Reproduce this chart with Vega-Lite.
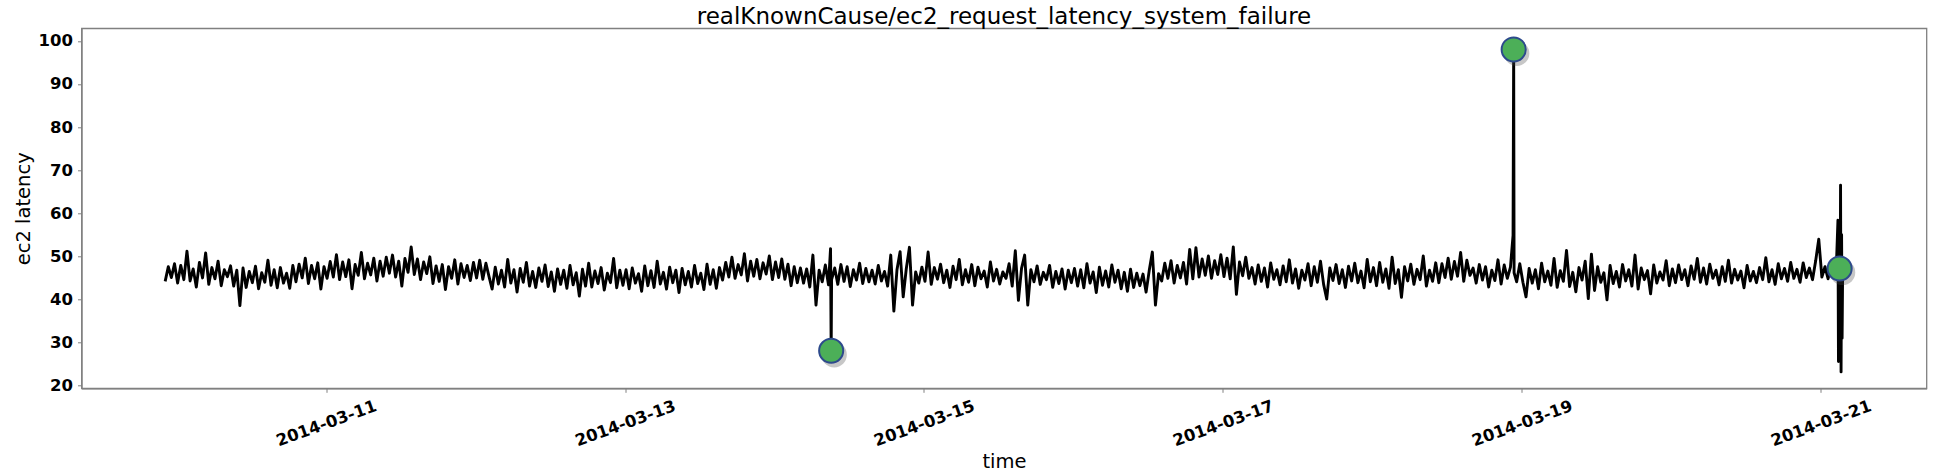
{
"$schema":"https://vega.github.io/schema/vega-lite/v6.json",
"width":1845,"height":360,
"autosize":{"type":"none"},
"padding":{"left":81.5,"top":28.3,"right":13.5,"bottom":87.7},
"background":"white",
"title":{"text":"realKnownCause/ec2_request_latency_system_failure","font":"DejaVu Sans","fontSize":23,"fontWeight":"normal","color":"#000","anchor":"middle","frame":"group","baseline":"alphabetic","offset":6,"dy":25},
"config":{"view":{"stroke":"#808080","strokeWidth":1.3},"axis":{"grid":false}},
"datasets":{
"a":[{"t":"2014-03-14T09:06","v":28.1},{"t":"2014-03-18T22:41","v":98.0},{"t":"2014-03-21T03:01","v":47.2}],
"s":[
{"t":"2014-03-09T22:10","v":44.2},{"t":"2014-03-09T22:40","v":47.6},{"t":"2014-03-09T23:10","v":45.1},{"t":"2014-03-09T23:40","v":48.3},
{"t":"2014-03-10T00:10","v":43.8},{"t":"2014-03-10T00:40","v":47.9},{"t":"2014-03-10T01:10","v":44.6},{"t":"2014-03-10T01:40","v":51.2},{"t":"2014-03-10T02:10","v":44.3},{"t":"2014-03-10T02:40","v":47.1},{"t":"2014-03-10T03:10","v":42.9},{"t":"2014-03-10T03:40","v":48.6},{"t":"2014-03-10T04:10","v":45.0},{"t":"2014-03-10T04:40","v":50.8},{"t":"2014-03-10T05:10","v":43.5},{"t":"2014-03-10T05:40","v":47.4},{"t":"2014-03-10T06:10","v":44.8},{"t":"2014-03-10T06:40","v":48.9},{"t":"2014-03-10T07:10","v":43.2},{"t":"2014-03-10T07:40","v":46.9},{"t":"2014-03-10T08:10","v":45.3},{"t":"2014-03-10T08:40","v":47.8},{"t":"2014-03-10T09:10","v":43.1},{"t":"2014-03-10T09:40","v":46.8},{"t":"2014-03-10T10:10","v":38.6},{"t":"2014-03-10T10:40","v":47.3},{"t":"2014-03-10T11:10","v":42.8},{"t":"2014-03-10T11:40","v":46.5},{"t":"2014-03-10T12:10","v":43.9},{"t":"2014-03-10T12:40","v":47.7},{"t":"2014-03-10T13:10","v":42.5},{"t":"2014-03-10T13:40","v":46.2},{"t":"2014-03-10T14:10","v":44.0},{"t":"2014-03-10T14:40","v":49.1},{"t":"2014-03-10T15:10","v":43.3},{"t":"2014-03-10T15:40","v":46.9},{"t":"2014-03-10T16:10","v":42.7},{"t":"2014-03-10T16:40","v":47.4},{"t":"2014-03-10T17:10","v":43.8},{"t":"2014-03-10T17:40","v":46.1},{"t":"2014-03-10T18:10","v":42.6},{"t":"2014-03-10T18:40","v":47.9},{"t":"2014-03-10T19:10","v":44.1},{"t":"2014-03-10T19:40","v":48.2},{"t":"2014-03-10T20:10","v":45.0},{"t":"2014-03-10T20:40","v":49.6},{"t":"2014-03-10T21:10","v":43.7},{"t":"2014-03-10T21:40","v":47.9},{"t":"2014-03-10T22:10","v":44.8},{"t":"2014-03-10T22:40","v":48.5},{"t":"2014-03-10T23:10","v":42.4},{"t":"2014-03-10T23:40","v":47.6},
{"t":"2014-03-11T00:10","v":44.9},{"t":"2014-03-11T00:40","v":48.8},{"t":"2014-03-11T01:10","v":45.2},{"t":"2014-03-11T01:40","v":50.4},{"t":"2014-03-11T02:10","v":44.6},{"t":"2014-03-11T02:40","v":48.7},{"t":"2014-03-11T03:10","v":45.3},{"t":"2014-03-11T03:40","v":49.2},{"t":"2014-03-11T04:10","v":42.5},{"t":"2014-03-11T04:40","v":48.1},{"t":"2014-03-11T05:10","v":45.6},{"t":"2014-03-11T05:40","v":50.9},{"t":"2014-03-11T06:10","v":44.8},{"t":"2014-03-11T06:40","v":48.4},{"t":"2014-03-11T07:10","v":45.7},{"t":"2014-03-11T07:40","v":49.6},{"t":"2014-03-11T08:10","v":44.3},{"t":"2014-03-11T08:40","v":48.9},{"t":"2014-03-11T09:10","v":45.4},{"t":"2014-03-11T09:40","v":49.8},{"t":"2014-03-11T10:10","v":46.1},{"t":"2014-03-11T10:40","v":50.3},{"t":"2014-03-11T11:10","v":45.2},{"t":"2014-03-11T11:40","v":48.9},{"t":"2014-03-11T12:10","v":43.1},{"t":"2014-03-11T12:40","v":49.5},{"t":"2014-03-11T13:10","v":46.3},{"t":"2014-03-11T13:40","v":52.2},{"t":"2014-03-11T14:10","v":45.8},{"t":"2014-03-11T14:40","v":49.4},{"t":"2014-03-11T15:10","v":44.6},{"t":"2014-03-11T15:40","v":48.7},{"t":"2014-03-11T16:10","v":46.0},{"t":"2014-03-11T16:40","v":49.9},{"t":"2014-03-11T17:10","v":43.7},{"t":"2014-03-11T17:40","v":47.8},{"t":"2014-03-11T18:10","v":44.2},{"t":"2014-03-11T18:40","v":48.1},{"t":"2014-03-11T19:10","v":42.3},{"t":"2014-03-11T19:40","v":47.6},{"t":"2014-03-11T20:10","v":44.9},{"t":"2014-03-11T20:40","v":49.2},{"t":"2014-03-11T21:10","v":43.6},{"t":"2014-03-11T21:40","v":48.3},{"t":"2014-03-11T22:10","v":45.1},{"t":"2014-03-11T22:40","v":47.9},{"t":"2014-03-11T23:10","v":44.4},{"t":"2014-03-11T23:40","v":48.6},
{"t":"2014-03-12T00:10","v":45.0},{"t":"2014-03-12T00:40","v":49.1},{"t":"2014-03-12T01:10","v":44.7},{"t":"2014-03-12T01:40","v":48.4},{"t":"2014-03-12T02:10","v":45.3},{"t":"2014-03-12T02:40","v":42.4},{"t":"2014-03-12T03:10","v":47.5},{"t":"2014-03-12T03:40","v":43.6},{"t":"2014-03-12T04:10","v":46.8},{"t":"2014-03-12T04:40","v":42.9},{"t":"2014-03-12T05:10","v":49.3},{"t":"2014-03-12T05:40","v":43.8},{"t":"2014-03-12T06:10","v":46.9},{"t":"2014-03-12T06:40","v":41.7},{"t":"2014-03-12T07:10","v":47.2},{"t":"2014-03-12T07:40","v":44.0},{"t":"2014-03-12T08:10","v":48.6},{"t":"2014-03-12T08:40","v":43.1},{"t":"2014-03-12T09:10","v":46.5},{"t":"2014-03-12T09:40","v":42.8},{"t":"2014-03-12T10:10","v":47.3},{"t":"2014-03-12T10:40","v":44.2},{"t":"2014-03-12T11:10","v":48.0},{"t":"2014-03-12T11:40","v":43.0},{"t":"2014-03-12T12:10","v":46.4},{"t":"2014-03-12T12:40","v":41.9},{"t":"2014-03-12T13:10","v":47.1},{"t":"2014-03-12T13:40","v":43.5},{"t":"2014-03-12T14:10","v":46.8},{"t":"2014-03-12T14:40","v":42.6},{"t":"2014-03-12T15:10","v":47.9},{"t":"2014-03-12T15:40","v":43.4},{"t":"2014-03-12T16:10","v":46.2},{"t":"2014-03-12T16:40","v":40.8},{"t":"2014-03-12T17:10","v":47.0},{"t":"2014-03-12T17:40","v":43.1},{"t":"2014-03-12T18:10","v":48.4},{"t":"2014-03-12T18:40","v":42.9},{"t":"2014-03-12T19:10","v":46.6},{"t":"2014-03-12T19:40","v":43.7},{"t":"2014-03-12T20:10","v":47.4},{"t":"2014-03-12T20:40","v":42.2},{"t":"2014-03-12T21:10","v":46.1},{"t":"2014-03-12T21:40","v":43.9},{"t":"2014-03-12T22:10","v":49.5},{"t":"2014-03-12T22:40","v":42.7},{"t":"2014-03-12T23:10","v":46.8},{"t":"2014-03-12T23:40","v":43.3},
{"t":"2014-03-13T00:10","v":46.9},{"t":"2014-03-13T00:40","v":42.5},{"t":"2014-03-13T01:10","v":47.3},{"t":"2014-03-13T01:40","v":43.8},{"t":"2014-03-13T02:10","v":46.0},{"t":"2014-03-13T02:40","v":41.9},{"t":"2014-03-13T03:10","v":47.8},{"t":"2014-03-13T03:40","v":43.2},{"t":"2014-03-13T04:10","v":46.7},{"t":"2014-03-13T04:40","v":42.8},{"t":"2014-03-13T05:10","v":48.9},{"t":"2014-03-13T05:40","v":43.6},{"t":"2014-03-13T06:10","v":46.3},{"t":"2014-03-13T06:40","v":42.4},{"t":"2014-03-13T07:10","v":47.5},{"t":"2014-03-13T07:40","v":43.9},{"t":"2014-03-13T08:10","v":46.8},{"t":"2014-03-13T08:40","v":41.6},{"t":"2014-03-13T09:10","v":47.2},{"t":"2014-03-13T09:40","v":43.4},{"t":"2014-03-13T10:10","v":46.5},{"t":"2014-03-13T10:40","v":42.9},{"t":"2014-03-13T11:10","v":47.9},{"t":"2014-03-13T11:40","v":43.7},{"t":"2014-03-13T12:10","v":46.1},{"t":"2014-03-13T12:40","v":42.3},{"t":"2014-03-13T13:10","v":48.2},{"t":"2014-03-13T13:40","v":43.5},{"t":"2014-03-13T14:10","v":46.9},{"t":"2014-03-13T14:40","v":42.6},{"t":"2014-03-13T15:10","v":47.4},{"t":"2014-03-13T15:40","v":44.5},{"t":"2014-03-13T16:10","v":48.6},{"t":"2014-03-13T16:40","v":45.2},{"t":"2014-03-13T17:10","v":49.8},{"t":"2014-03-13T17:40","v":44.9},{"t":"2014-03-13T18:10","v":48.1},{"t":"2014-03-13T18:40","v":45.7},{"t":"2014-03-13T19:10","v":50.6},{"t":"2014-03-13T19:40","v":44.3},{"t":"2014-03-13T20:10","v":48.9},{"t":"2014-03-13T20:40","v":45.4},{"t":"2014-03-13T21:10","v":49.3},{"t":"2014-03-13T21:40","v":44.8},{"t":"2014-03-13T22:10","v":48.5},{"t":"2014-03-13T22:40","v":45.9},{"t":"2014-03-13T23:10","v":50.1},{"t":"2014-03-13T23:40","v":44.6},
{"t":"2014-03-14T00:10","v":48.7},{"t":"2014-03-14T00:40","v":45.1},{"t":"2014-03-14T01:10","v":49.4},{"t":"2014-03-14T01:40","v":44.7},{"t":"2014-03-14T02:10","v":48.2},{"t":"2014-03-14T02:40","v":43.2},{"t":"2014-03-14T03:10","v":47.6},{"t":"2014-03-14T03:40","v":43.9},{"t":"2014-03-14T04:10","v":47.3},{"t":"2014-03-14T04:40","v":43.8},{"t":"2014-03-14T05:10","v":47.1},{"t":"2014-03-14T05:40","v":42.9},{"t":"2014-03-14T06:10","v":50.3},{"t":"2014-03-14T06:40","v":38.7},{"t":"2014-03-14T07:10","v":46.8},{"t":"2014-03-14T07:40","v":44.1},{"t":"2014-03-14T08:10","v":48.0},{"t":"2014-03-14T08:40","v":43.4},{"t":"2014-03-14T09:00","v":51.8},{"t":"2014-03-14T09:06","v":28.1},{"t":"2014-03-14T09:10","v":44.6},{"t":"2014-03-14T09:40","v":47.3},{"t":"2014-03-14T10:10","v":43.5},{"t":"2014-03-14T10:40","v":48.1},{"t":"2014-03-14T11:10","v":44.2},{"t":"2014-03-14T11:40","v":47.6},{"t":"2014-03-14T12:10","v":43.0},{"t":"2014-03-14T12:40","v":46.9},{"t":"2014-03-14T13:10","v":44.5},{"t":"2014-03-14T13:40","v":48.4},{"t":"2014-03-14T14:10","v":43.7},{"t":"2014-03-14T14:40","v":47.2},{"t":"2014-03-14T15:10","v":44.1},{"t":"2014-03-14T15:40","v":46.8},{"t":"2014-03-14T16:10","v":43.6},{"t":"2014-03-14T16:40","v":47.9},{"t":"2014-03-14T17:10","v":44.3},{"t":"2014-03-14T17:40","v":46.5},{"t":"2014-03-14T18:10","v":43.1},{"t":"2014-03-14T18:40","v":50.3},{"t":"2014-03-14T19:10","v":37.3},{"t":"2014-03-14T19:40","v":46.9},{"t":"2014-03-14T20:10","v":51.1},{"t":"2014-03-14T20:40","v":40.6},{"t":"2014-03-14T21:10","v":47.2},{"t":"2014-03-14T21:40","v":52.1},{"t":"2014-03-14T22:10","v":38.7},{"t":"2014-03-14T22:40","v":46.4},{"t":"2014-03-14T23:10","v":43.8},{"t":"2014-03-14T23:40","v":47.5},
{"t":"2014-03-15T00:10","v":44.2},{"t":"2014-03-15T00:40","v":51.0},{"t":"2014-03-15T01:10","v":43.5},{"t":"2014-03-15T01:40","v":47.4},{"t":"2014-03-15T02:10","v":44.7},{"t":"2014-03-15T02:40","v":48.2},{"t":"2014-03-15T03:10","v":43.9},{"t":"2014-03-15T03:40","v":46.8},{"t":"2014-03-15T04:10","v":42.8},{"t":"2014-03-15T04:40","v":47.7},{"t":"2014-03-15T05:10","v":44.6},{"t":"2014-03-15T05:40","v":49.3},{"t":"2014-03-15T06:10","v":43.4},{"t":"2014-03-15T06:40","v":46.9},{"t":"2014-03-15T07:10","v":44.0},{"t":"2014-03-15T07:40","v":48.1},{"t":"2014-03-15T08:10","v":43.2},{"t":"2014-03-15T08:40","v":47.5},{"t":"2014-03-15T09:10","v":44.8},{"t":"2014-03-15T09:40","v":46.6},{"t":"2014-03-15T10:10","v":42.9},{"t":"2014-03-15T10:40","v":48.7},{"t":"2014-03-15T11:10","v":44.3},{"t":"2014-03-15T11:40","v":47.0},{"t":"2014-03-15T12:10","v":43.6},{"t":"2014-03-15T12:40","v":46.4},{"t":"2014-03-15T13:10","v":44.9},{"t":"2014-03-15T13:40","v":48.3},{"t":"2014-03-15T14:10","v":43.1},{"t":"2014-03-15T14:40","v":51.3},{"t":"2014-03-15T15:10","v":39.8},{"t":"2014-03-15T15:40","v":47.2},{"t":"2014-03-15T16:10","v":50.3},{"t":"2014-03-15T16:40","v":38.7},{"t":"2014-03-15T17:10","v":46.9},{"t":"2014-03-15T17:40","v":44.1},{"t":"2014-03-15T18:10","v":47.8},{"t":"2014-03-15T18:40","v":43.5},{"t":"2014-03-15T19:10","v":46.3},{"t":"2014-03-15T19:40","v":44.6},{"t":"2014-03-15T20:10","v":47.9},{"t":"2014-03-15T20:40","v":42.8},{"t":"2014-03-15T21:10","v":46.5},{"t":"2014-03-15T21:40","v":43.7},{"t":"2014-03-15T22:10","v":47.1},{"t":"2014-03-15T22:40","v":42.4},{"t":"2014-03-15T23:10","v":46.8},{"t":"2014-03-15T23:40","v":43.9},
{"t":"2014-03-16T00:10","v":47.2},{"t":"2014-03-16T00:40","v":43.1},{"t":"2014-03-16T01:10","v":46.9},{"t":"2014-03-16T01:40","v":42.7},{"t":"2014-03-16T02:10","v":48.3},{"t":"2014-03-16T02:40","v":43.8},{"t":"2014-03-16T03:10","v":46.4},{"t":"2014-03-16T03:40","v":41.6},{"t":"2014-03-16T04:10","v":47.5},{"t":"2014-03-16T04:40","v":43.3},{"t":"2014-03-16T05:10","v":46.6},{"t":"2014-03-16T05:40","v":42.9},{"t":"2014-03-16T06:10","v":48.0},{"t":"2014-03-16T06:40","v":44.0},{"t":"2014-03-16T07:10","v":46.8},{"t":"2014-03-16T07:40","v":42.5},{"t":"2014-03-16T08:10","v":46.3},{"t":"2014-03-16T08:40","v":41.9},{"t":"2014-03-16T09:10","v":47.0},{"t":"2014-03-16T09:40","v":42.8},{"t":"2014-03-16T10:10","v":46.1},{"t":"2014-03-16T10:40","v":43.2},{"t":"2014-03-16T11:10","v":45.9},{"t":"2014-03-16T11:40","v":41.7},{"t":"2014-03-16T12:10","v":46.7},{"t":"2014-03-16T12:40","v":51.0},{"t":"2014-03-16T13:10","v":38.7},{"t":"2014-03-16T13:40","v":46.0},{"t":"2014-03-16T14:10","v":44.3},{"t":"2014-03-16T14:40","v":48.4},{"t":"2014-03-16T15:10","v":44.9},{"t":"2014-03-16T15:40","v":49.0},{"t":"2014-03-16T16:10","v":43.8},{"t":"2014-03-16T16:40","v":47.9},{"t":"2014-03-16T17:10","v":45.0},{"t":"2014-03-16T17:40","v":48.6},{"t":"2014-03-16T18:10","v":43.6},{"t":"2014-03-16T18:40","v":51.6},{"t":"2014-03-16T19:10","v":44.8},{"t":"2014-03-16T19:40","v":52.0},{"t":"2014-03-16T20:10","v":45.2},{"t":"2014-03-16T20:40","v":49.4},{"t":"2014-03-16T21:10","v":45.6},{"t":"2014-03-16T21:40","v":50.1},{"t":"2014-03-16T22:10","v":44.9},{"t":"2014-03-16T22:40","v":49.0},{"t":"2014-03-16T23:10","v":45.8},{"t":"2014-03-16T23:40","v":50.4},
{"t":"2014-03-17T00:10","v":45.3},{"t":"2014-03-17T00:40","v":49.6},{"t":"2014-03-17T01:10","v":44.8},{"t":"2014-03-17T01:40","v":52.2},{"t":"2014-03-17T02:10","v":41.2},{"t":"2014-03-17T02:40","v":48.7},{"t":"2014-03-17T03:10","v":45.5},{"t":"2014-03-17T03:40","v":49.8},{"t":"2014-03-17T04:10","v":44.9},{"t":"2014-03-17T04:40","v":47.4},{"t":"2014-03-17T05:10","v":43.6},{"t":"2014-03-17T05:40","v":48.0},{"t":"2014-03-17T06:10","v":44.2},{"t":"2014-03-17T06:40","v":47.3},{"t":"2014-03-17T07:10","v":42.9},{"t":"2014-03-17T07:40","v":48.5},{"t":"2014-03-17T08:10","v":44.7},{"t":"2014-03-17T08:40","v":46.9},{"t":"2014-03-17T09:10","v":43.4},{"t":"2014-03-17T09:40","v":47.8},{"t":"2014-03-17T10:10","v":44.1},{"t":"2014-03-17T10:40","v":49.2},{"t":"2014-03-17T11:10","v":43.8},{"t":"2014-03-17T11:40","v":47.1},{"t":"2014-03-17T12:10","v":42.6},{"t":"2014-03-17T12:40","v":46.8},{"t":"2014-03-17T13:10","v":44.5},{"t":"2014-03-17T13:40","v":48.3},{"t":"2014-03-17T14:10","v":43.2},{"t":"2014-03-17T14:40","v":47.6},{"t":"2014-03-17T15:10","v":44.0},{"t":"2014-03-17T15:40","v":48.9},{"t":"2014-03-17T16:10","v":43.5},{"t":"2014-03-17T16:40","v":40.1},{"t":"2014-03-17T17:10","v":47.3},{"t":"2014-03-17T17:40","v":44.4},{"t":"2014-03-17T18:10","v":48.1},{"t":"2014-03-17T18:40","v":43.7},{"t":"2014-03-17T19:10","v":46.9},{"t":"2014-03-17T19:40","v":42.8},{"t":"2014-03-17T20:10","v":47.7},{"t":"2014-03-17T20:40","v":44.3},{"t":"2014-03-17T21:10","v":48.4},{"t":"2014-03-17T21:40","v":43.9},{"t":"2014-03-17T22:10","v":46.6},{"t":"2014-03-17T22:40","v":42.7},{"t":"2014-03-17T23:10","v":49.3},{"t":"2014-03-17T23:40","v":44.1},
{"t":"2014-03-18T00:10","v":47.4},{"t":"2014-03-18T00:40","v":43.2},{"t":"2014-03-18T01:10","v":48.6},{"t":"2014-03-18T01:40","v":44.0},{"t":"2014-03-18T02:10","v":47.1},{"t":"2014-03-18T02:40","v":42.6},{"t":"2014-03-18T03:10","v":49.8},{"t":"2014-03-18T03:40","v":43.7},{"t":"2014-03-18T04:10","v":46.9},{"t":"2014-03-18T04:40","v":40.5},{"t":"2014-03-18T05:10","v":47.6},{"t":"2014-03-18T05:40","v":44.3},{"t":"2014-03-18T06:10","v":48.2},{"t":"2014-03-18T06:40","v":43.5},{"t":"2014-03-18T07:10","v":47.0},{"t":"2014-03-18T07:40","v":44.6},{"t":"2014-03-18T08:10","v":50.1},{"t":"2014-03-18T08:40","v":43.1},{"t":"2014-03-18T09:10","v":46.8},{"t":"2014-03-18T09:40","v":44.2},{"t":"2014-03-18T10:10","v":48.5},{"t":"2014-03-18T10:40","v":43.9},{"t":"2014-03-18T11:10","v":48.3},{"t":"2014-03-18T11:40","v":45.1},{"t":"2014-03-18T12:10","v":49.6},{"t":"2014-03-18T12:40","v":44.7},{"t":"2014-03-18T13:10","v":48.8},{"t":"2014-03-18T13:40","v":45.4},{"t":"2014-03-18T14:10","v":50.9},{"t":"2014-03-18T14:40","v":44.2},{"t":"2014-03-18T15:10","v":49.1},{"t":"2014-03-18T15:40","v":45.6},{"t":"2014-03-18T16:10","v":47.3},{"t":"2014-03-18T16:40","v":43.8},{"t":"2014-03-18T17:10","v":48.1},{"t":"2014-03-18T17:40","v":44.5},{"t":"2014-03-18T18:10","v":47.6},{"t":"2014-03-18T18:40","v":42.9},{"t":"2014-03-18T19:10","v":46.8},{"t":"2014-03-18T19:40","v":44.4},{"t":"2014-03-18T20:10","v":49.2},{"t":"2014-03-18T20:40","v":43.6},{"t":"2014-03-18T21:10","v":48.0},{"t":"2014-03-18T21:40","v":44.9},{"t":"2014-03-18T22:10","v":47.5},{"t":"2014-03-18T22:35","v":54.9},{"t":"2014-03-18T22:41","v":98.0},{"t":"2014-03-18T22:45","v":46.2},{"t":"2014-03-18T23:10","v":44.1},{"t":"2014-03-18T23:40","v":48.3},
{"t":"2014-03-19T00:10","v":44.0},{"t":"2014-03-19T00:40","v":40.6},{"t":"2014-03-19T01:10","v":47.2},{"t":"2014-03-19T01:40","v":43.8},{"t":"2014-03-19T02:10","v":46.9},{"t":"2014-03-19T02:40","v":42.5},{"t":"2014-03-19T03:10","v":48.4},{"t":"2014-03-19T03:40","v":44.1},{"t":"2014-03-19T04:10","v":46.6},{"t":"2014-03-19T04:40","v":43.3},{"t":"2014-03-19T05:10","v":49.5},{"t":"2014-03-19T05:40","v":42.8},{"t":"2014-03-19T06:10","v":46.7},{"t":"2014-03-19T06:40","v":44.2},{"t":"2014-03-19T07:10","v":51.4},{"t":"2014-03-19T07:40","v":43.0},{"t":"2014-03-19T08:10","v":46.3},{"t":"2014-03-19T08:40","v":41.8},{"t":"2014-03-19T09:10","v":47.4},{"t":"2014-03-19T09:40","v":44.5},{"t":"2014-03-19T10:10","v":48.9},{"t":"2014-03-19T10:40","v":40.2},{"t":"2014-03-19T11:10","v":50.5},{"t":"2014-03-19T11:40","v":42.1},{"t":"2014-03-19T12:10","v":47.6},{"t":"2014-03-19T12:40","v":44.0},{"t":"2014-03-19T13:10","v":46.2},{"t":"2014-03-19T13:40","v":39.9},{"t":"2014-03-19T14:10","v":47.9},{"t":"2014-03-19T14:40","v":43.7},{"t":"2014-03-19T15:10","v":46.5},{"t":"2014-03-19T15:40","v":42.9},{"t":"2014-03-19T16:10","v":48.1},{"t":"2014-03-19T16:40","v":44.3},{"t":"2014-03-19T17:10","v":46.9},{"t":"2014-03-19T17:40","v":43.1},{"t":"2014-03-19T18:10","v":50.3},{"t":"2014-03-19T18:40","v":42.4},{"t":"2014-03-19T19:10","v":47.3},{"t":"2014-03-19T19:40","v":44.6},{"t":"2014-03-19T20:10","v":46.7},{"t":"2014-03-19T20:40","v":41.3},{"t":"2014-03-19T21:10","v":48.0},{"t":"2014-03-19T21:40","v":43.8},{"t":"2014-03-19T22:10","v":46.4},{"t":"2014-03-19T22:40","v":44.5},{"t":"2014-03-19T23:10","v":49.0},{"t":"2014-03-19T23:40","v":43.2},
{"t":"2014-03-20T00:10","v":47.1},{"t":"2014-03-20T00:40","v":43.9},{"t":"2014-03-20T01:10","v":48.0},{"t":"2014-03-20T01:40","v":44.6},{"t":"2014-03-20T02:10","v":46.9},{"t":"2014-03-20T02:40","v":43.2},{"t":"2014-03-20T03:10","v":47.8},{"t":"2014-03-20T03:40","v":44.7},{"t":"2014-03-20T04:10","v":49.5},{"t":"2014-03-20T04:40","v":44.0},{"t":"2014-03-20T05:10","v":47.3},{"t":"2014-03-20T05:40","v":43.6},{"t":"2014-03-20T06:10","v":48.2},{"t":"2014-03-20T06:40","v":44.9},{"t":"2014-03-20T07:10","v":46.8},{"t":"2014-03-20T07:40","v":43.4},{"t":"2014-03-20T08:10","v":47.6},{"t":"2014-03-20T08:40","v":44.2},{"t":"2014-03-20T09:10","v":49.1},{"t":"2014-03-20T09:40","v":43.8},{"t":"2014-03-20T10:10","v":47.0},{"t":"2014-03-20T10:40","v":44.5},{"t":"2014-03-20T11:10","v":46.6},{"t":"2014-03-20T11:40","v":42.7},{"t":"2014-03-20T12:10","v":47.9},{"t":"2014-03-20T12:40","v":44.3},{"t":"2014-03-20T13:10","v":46.5},{"t":"2014-03-20T13:40","v":43.9},{"t":"2014-03-20T14:10","v":47.4},{"t":"2014-03-20T14:40","v":44.6},{"t":"2014-03-20T15:10","v":49.7},{"t":"2014-03-20T15:40","v":44.1},{"t":"2014-03-20T16:10","v":46.9},{"t":"2014-03-20T16:40","v":43.5},{"t":"2014-03-20T17:10","v":48.3},{"t":"2014-03-20T17:40","v":44.8},{"t":"2014-03-20T18:10","v":47.2},{"t":"2014-03-20T18:40","v":44.2},{"t":"2014-03-20T19:10","v":48.6},{"t":"2014-03-20T19:40","v":44.9},{"t":"2014-03-20T20:10","v":47.0},{"t":"2014-03-20T20:40","v":44.0},{"t":"2014-03-20T21:10","v":48.5},{"t":"2014-03-20T21:40","v":45.1},{"t":"2014-03-20T22:10","v":47.3},{"t":"2014-03-20T22:40","v":44.6},{"t":"2014-03-20T23:10","v":48.9},{"t":"2014-03-20T23:40","v":54.0},
{"t":"2014-03-21T00:10","v":45.2},{"t":"2014-03-21T00:40","v":47.6},{"t":"2014-03-21T01:10","v":44.8},{"t":"2014-03-21T01:40","v":48.1},{"t":"2014-03-21T02:10","v":45.4},{"t":"2014-03-21T02:30","v":47.9},{"t":"2014-03-21T02:45","v":58.4},{"t":"2014-03-21T02:50","v":25.6},{"t":"2014-03-21T02:55","v":57.0},{"t":"2014-03-21T03:01","v":47.2},{"t":"2014-03-21T03:05","v":29.0},{"t":"2014-03-21T03:10","v":66.5},{"t":"2014-03-21T03:15","v":23.2},{"t":"2014-03-21T03:20","v":55.0},{"t":"2014-03-21T03:25","v":31.0},{"t":"2014-03-21T03:30","v":46.5}
]},
"encoding":{
"x":{"field":"t","type":"temporal","scale":{"domain":[{"year":2014,"month":3,"date":9,"hours":8,"minutes":44},{"year":2014,"month":3,"date":21,"hours":16,"minutes":58}]},
"axis":{"title":"time","values":[{"year":2014,"month":3,"date":11},{"year":2014,"month":3,"date":13},{"year":2014,"month":3,"date":15},{"year":2014,"month":3,"date":17},{"year":2014,"month":3,"date":19},{"year":2014,"month":3,"date":21}],"format":"%Y-%m-%d","labelAngle":-20,"labelAlign":"center","labelBaseline":"middle","labelPadding":31,"labelFont":"DejaVu Sans","labelFontSize":16.5,"labelFontWeight":"bold","labelColor":"#000","labelOverlap":false,"labelFlush":false,"labelBound":false,"tickSize":4,"tickColor":"#808080","domainColor":"#808080","domainWidth":1.3,"titleFont":"DejaVu Sans","titleFontSize":19.5,"titleFontWeight":"normal","titleColor":"#000","titleY":73,"titleBaseline":"middle","grid":false}},
"y":{"field":"v","type":"quantitative","scale":{"domain":[19.4,102.9],"nice":false,"zero":false},
"axis":{"title":"ec2 latency","values":[20,30,40,50,60,70,80,90,100],"labelPadding":5,"labelFont":"DejaVu Sans","labelFontSize":16.5,"labelFontWeight":"bold","labelColor":"#000","labelBaseline":"middle","tickSize":4,"tickColor":"#808080","domainColor":"#808080","domainWidth":1.3,"titleFont":"DejaVu Sans","titleFontSize":19.5,"titleFontWeight":"normal","titleColor":"#000","titleX":-58,"titleY":180,"titleAngle":-90,"titleAlign":"center","titleBaseline":"middle","grid":false}}
},
"layer":[
{"data":{"name":"s"},"mark":{"type":"line","color":"#000","strokeWidth":2.9,"strokeJoin":"round"}},
{"data":{"name":"a"},"mark":{"type":"point","shape":"circle","filled":true,"fill":"#444","opacity":0.3,"size":640,"xOffset":3,"yOffset":4,"strokeWidth":0}},
{"data":{"name":"a"},"mark":{"type":"point","shape":"circle","filled":true,"fill":"#4caf58","stroke":"#2d4a8c","strokeWidth":2,"size":580,"opacity":1}}
]
}
